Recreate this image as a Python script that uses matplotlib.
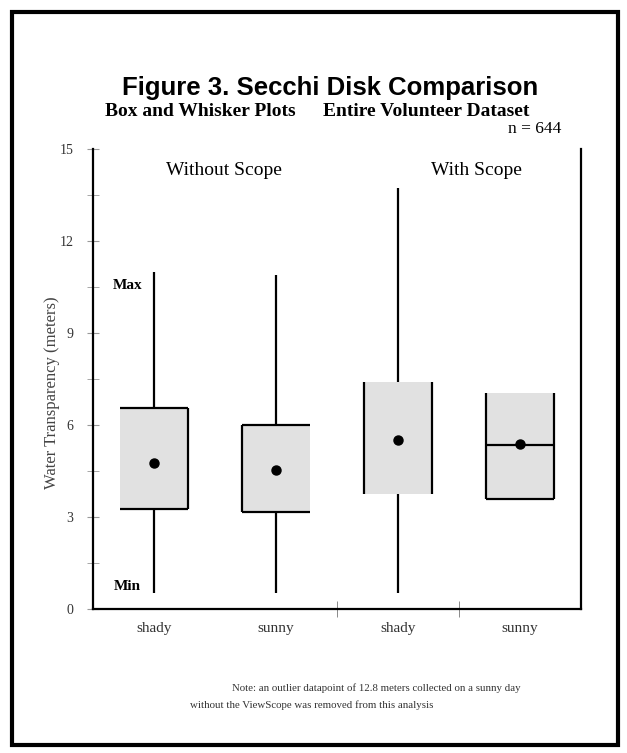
import matplotlib
matplotlib.use("Agg")
import matplotlib.pyplot as plt
from matplotlib.patches import Rectangle
import numpy as np

# data (water transparency, meters)
groups = ["Without Scope", "With Scope"]
categories = ["shady", "sunny", "shady", "sunny"]
q1 = [3.26, 3.16, 3.75, 3.59]
q3 = [6.55, 6.00, 7.40, 7.04]
means = [4.76, 4.53, 5.51, 5.38]
medians = [None, None, None, 5.35]
whisker_lo = [0.52, 0.52, 0.52, None]
whisker_hi = [10.99, 10.89, 13.73, None]
y_ticks = [0, 3, 6, 9, 12, 15]

# which box edges show up in the original
box_edges = [("top", "bottom", "right"), ("top", "bottom", "left"),
             ("left", "right"), ("left", "right", "bottom")]

serif = ["Liberation Serif", "DejaVu Serif"]
sans = ["Liberation Sans", "DejaVu Sans"]

fig = plt.figure(figsize=(6.27, 7.53), dpi=100)
fig.patches.append(Rectangle((0.019, 0.011), 0.966, 0.973, transform=fig.transFigure,
                             fill=False, lw=3, ec="black"))

ax = fig.add_axes([0.1483, 0.1912, 0.7783, 0.6109])
x = np.arange(1, len(categories) + 1)
w = 0.56

ax.bar(x, np.array(q3) - np.array(q1), bottom=q1, width=w, color="#e1e1e1",
       edgecolor="none", zorder=1)
for i, xi in enumerate(x):
    l, r = xi - w / 2, xi + w / 2
    e = box_edges[i]
    if "top" in e:
        ax.hlines(q3[i], l, r, color="black", lw=1.6, zorder=2)
    if "bottom" in e:
        ax.hlines(q1[i], l, r, color="black", lw=1.6, zorder=2)
    if "left" in e:
        ax.vlines(l, q1[i], q3[i], color="black", lw=1.6, zorder=2)
    if "right" in e:
        ax.vlines(r, q1[i], q3[i], color="black", lw=1.6, zorder=2)
    if medians[i] is not None:
        ax.hlines(medians[i], l, r, color="black", lw=1.6, zorder=2)
    if whisker_hi[i] is not None:
        ax.vlines(xi, q3[i], whisker_hi[i], color="black", lw=1.6, zorder=2)
    if whisker_lo[i] is not None:
        ax.vlines(xi, whisker_lo[i], q1[i], color="black", lw=1.6, zorder=2)
ax.plot(x, means, "o", color="black", ms=6.5, zorder=3)

ax.set_xlim(0.5, 4.5)
ax.set_ylim(0, 15)
ax.spines["top"].set_visible(False)
for s in ["left", "right", "bottom"]:
    ax.spines[s].set_linewidth(1.6)

ax.set_yticks(y_ticks)
ax.set_yticklabels([str(t) for t in y_ticks], family=serif, fontsize=10, color="#333333")
ax.set_yticks(np.arange(1.5, 15, 3), minor=True)
ax.tick_params(axis="y", which="both", direction="inout", length=8, color="#999999", pad=10)

ax.set_xticks(x)
ax.set_xticklabels(categories, family=serif, fontsize=11, color="#333333")
ax.tick_params(axis="x", which="major", length=0, pad=9)
ax.set_xticks([2.5, 3.5], minor=True)
ax.tick_params(axis="x", which="minor", direction="inout", length=12, color="#777777")

fig.text(0.083, 0.478, "Water Transparency (meters)", family=serif, fontsize=12,
         color="#444444", rotation=90, ha="center", va="center")

ax.text(1.1, 14.3, groups[0], family=serif, fontsize=14, ha="left", va="center")
ax.text(3.27, 14.3, groups[1], family=serif, fontsize=14, ha="left", va="center")
ax.text(0.78, 10.56, "Max", family=serif, fontsize=11, fontweight="bold", ha="center", va="center")
ax.text(0.78, 0.75, "Min", family=serif, fontsize=11, fontweight="bold", ha="center", va="center")

fig.text(0.527, 0.883, "Figure 3. Secchi Disk Comparison", family=sans, fontsize=18.5,
         fontweight="bold", ha="center", va="center")
fig.text(0.168, 0.852, "Box and Whisker Plots", family=serif, fontsize=14,
         fontweight="bold", ha="left", va="center")
fig.text(0.515, 0.852, "Entire Volunteer Dataset", family=serif, fontsize=14,
         fontweight="bold", ha="left", va="center")
fig.text(0.895, 0.829, "n = 644", family=serif, fontsize=12.5, ha="right", va="center")

fig.text(0.37, 0.086, "Note: an outlier datapoint of 12.8 meters collected on a sunny day",
         family=serif, fontsize=7.8, ha="left", va="center", color="#333333")
fig.text(0.303, 0.064, "without the ViewScope was removed from this analysis",
         family=serif, fontsize=7.8, ha="left", va="center", color="#333333")

fig.savefig("out.png", dpi=100)
